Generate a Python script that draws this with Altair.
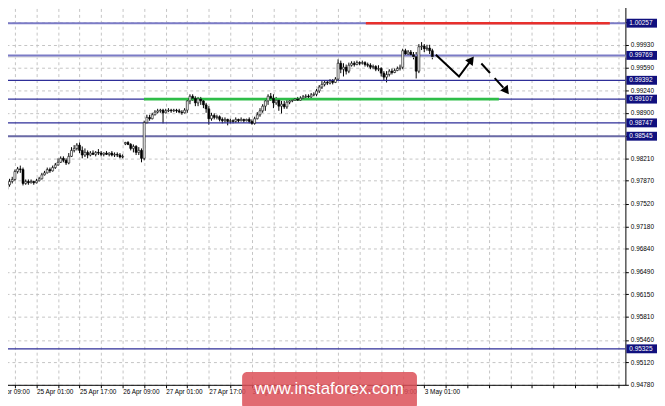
import altair as alt
import pandas as pd

# ---------------- data ----------------
first_bar = 5  # bar index of first visible candle (0 = 24 Apr 09:00, H1 bars)
opens = [
    0.9774, 0.9781, 0.9786, 0.9789, 0.9801, 0.9805, 0.9804, 0.9783, 0.9786, 0.9784,
    0.9786, 0.9784, 0.9787, 0.9790, 0.9796, 0.9799, 0.9804, 0.9802, 0.9807, 0.9811,
    0.9815, 0.9821, 0.9818, 0.9814, 0.9824, 0.9833, 0.9836, 0.9841, 0.9833, 0.9826,
    0.9830, 0.9826, 0.9829, 0.9827, 0.9830, 0.9829, 0.9827, 0.9829, 0.9827, 0.9829,
    0.9826, 0.9827, 0.9826, 0.9823, 0.9843, 0.9845, 0.9842, 0.9836, 0.9839, 0.9830,
    0.9833, 0.9821, 0.9875, 0.9883, 0.9881, 0.9887, 0.9891, 0.9893, 0.9894, 0.9890,
    0.9893, 0.9894, 0.9893, 0.9894, 0.9893, 0.9891, 0.9890, 0.9894, 0.9908, 0.9915,
    0.9912, 0.9905, 0.9911, 0.9908, 0.9902, 0.9896, 0.9881, 0.9886, 0.9883, 0.9884,
    0.9880, 0.9878, 0.9880, 0.9877, 0.9878, 0.9877, 0.9880, 0.9878, 0.9880, 0.9878,
    0.9880, 0.9877, 0.9874, 0.9881, 0.9887, 0.9893, 0.9900, 0.9908, 0.9915, 0.9912,
    0.9905, 0.9909, 0.9900, 0.9903, 0.9899, 0.9906, 0.9908, 0.9909, 0.9911, 0.9909,
    0.9912, 0.9914, 0.9915, 0.9914, 0.9917, 0.9918, 0.9923, 0.9929, 0.9933, 0.9936,
    0.9935, 0.9938, 0.9936, 0.9941, 0.9965, 0.9956, 0.9959, 0.9953, 0.9962, 0.9965,
    0.9963, 0.9966, 0.9965, 0.9966, 0.9963, 0.9962, 0.9959, 0.9960, 0.9956, 0.9957,
    0.9950, 0.9944, 0.9948, 0.9953, 0.9951, 0.9954, 0.9957, 0.9959, 0.9984, 0.9979,
    0.9982, 0.9978, 0.9975, 0.9953, 0.9990, 0.9991, 0.9987, 0.9988, 0.9984,
]
highs = [
    0.9789, 0.9790, 0.9793, 0.9804, 0.9808, 0.9810, 0.9807, 0.9789, 0.9789, 0.9789,
    0.9787, 0.9790, 0.9793, 0.9799, 0.9802, 0.9807, 0.9807, 0.9810, 0.9814, 0.9821,
    0.9824, 0.9824, 0.9821, 0.9829, 0.9838, 0.9841, 0.9844, 0.9845, 0.9839, 0.9836,
    0.9833, 0.9832, 0.9833, 0.9832, 0.9835, 0.9832, 0.9830, 0.9832, 0.9830, 0.9832,
    0.9830, 0.9830, 0.9829, 0.9827, 0.9846, 0.9847, 0.9844, 0.9842, 0.9841, 0.9838,
    0.9836, 0.9878, 0.9887, 0.9887, 0.9890, 0.9894, 0.9896, 0.9896, 0.9896, 0.9896,
    0.9897, 0.9896, 0.9896, 0.9896, 0.9896, 0.9894, 0.9897, 0.9911, 0.9918, 0.9918,
    0.9915, 0.9914, 0.9914, 0.9911, 0.9905, 0.9900, 0.9890, 0.9889, 0.9887, 0.9886,
    0.9883, 0.9883, 0.9881, 0.9881, 0.9880, 0.9883, 0.9881, 0.9883, 0.9881, 0.9881,
    0.9883, 0.9880, 0.9884, 0.9891, 0.9897, 0.9903, 0.9912, 0.9918, 0.9920, 0.9918,
    0.9914, 0.9912, 0.9908, 0.9908, 0.9911, 0.9911, 0.9912, 0.9912, 0.9914, 0.9915,
    0.9917, 0.9918, 0.9918, 0.9920, 0.9921, 0.9926, 0.9932, 0.9938, 0.9939, 0.9939,
    0.9941, 0.9941, 0.9944, 0.9971, 0.9969, 0.9965, 0.9963, 0.9966, 0.9968, 0.9968,
    0.9969, 0.9968, 0.9969, 0.9968, 0.9966, 0.9965, 0.9963, 0.9962, 0.9962, 0.9959,
    0.9953, 0.9953, 0.9956, 0.9957, 0.9957, 0.9960, 0.9963, 0.9987, 0.9987, 0.9985,
    0.9985, 0.9982, 0.9982, 0.9994, 0.9997, 0.9994, 0.9993, 0.9993, 0.9987,
]
lows = [
    0.9771, 0.9778, 0.9783, 0.9787, 0.9798, 0.9799, 0.9780, 0.9781, 0.9781, 0.9783,
    0.9781, 0.9783, 0.9786, 0.9789, 0.9795, 0.9798, 0.9799, 0.9801, 0.9805, 0.9810,
    0.9814, 0.9815, 0.9811, 0.9812, 0.9823, 0.9830, 0.9833, 0.9829, 0.9821, 0.9823,
    0.9821, 0.9824, 0.9826, 0.9824, 0.9826, 0.9824, 0.9824, 0.9826, 0.9824, 0.9824,
    0.9823, 0.9823, 0.9821, 0.9821, 0.9841, 0.9841, 0.9833, 0.9830, 0.9826, 0.9826,
    0.9815, 0.9818, 0.9874, 0.9878, 0.9880, 0.9886, 0.9889, 0.9890, 0.9874, 0.9889,
    0.9891, 0.9890, 0.9891, 0.9890, 0.9890, 0.9887, 0.9889, 0.9890, 0.9903, 0.9908,
    0.9900, 0.9900, 0.9902, 0.9897, 0.9890, 0.9872, 0.9878, 0.9880, 0.9880, 0.9877,
    0.9874, 0.9875, 0.9871, 0.9874, 0.9874, 0.9875, 0.9875, 0.9877, 0.9875, 0.9877,
    0.9874, 0.9872, 0.9872, 0.9880, 0.9884, 0.9890, 0.9893, 0.9902, 0.9908, 0.9897,
    0.9902, 0.9893, 0.9889, 0.9896, 0.9896, 0.9903, 0.9906, 0.9908, 0.9908, 0.9908,
    0.9911, 0.9912, 0.9912, 0.9912, 0.9915, 0.9915, 0.9920, 0.9926, 0.9930, 0.9932,
    0.9933, 0.9933, 0.9935, 0.9938, 0.9950, 0.9945, 0.9948, 0.9950, 0.9960, 0.9960,
    0.9962, 0.9962, 0.9963, 0.9960, 0.9959, 0.9956, 0.9956, 0.9953, 0.9953, 0.9945,
    0.9939, 0.9936, 0.9945, 0.9948, 0.9950, 0.9953, 0.9954, 0.9956, 0.9975, 0.9975,
    0.9974, 0.9971, 0.9942, 0.9950, 0.9985, 0.9982, 0.9984, 0.9979, 0.9971,
]
closes = [
    0.9781, 0.9786, 0.9789, 0.9801, 0.9805, 0.9804, 0.9783, 0.9786, 0.9784, 0.9786,
    0.9784, 0.9787, 0.9790, 0.9796, 0.9799, 0.9804, 0.9802, 0.9807, 0.9811, 0.9815,
    0.9821, 0.9818, 0.9814, 0.9824, 0.9833, 0.9836, 0.9841, 0.9833, 0.9826, 0.9830,
    0.9826, 0.9829, 0.9827, 0.9830, 0.9829, 0.9827, 0.9829, 0.9827, 0.9829, 0.9826,
    0.9827, 0.9826, 0.9823, 0.9824, 0.9845, 0.9842, 0.9836, 0.9839, 0.9830, 0.9833,
    0.9821, 0.9875, 0.9883, 0.9881, 0.9887, 0.9891, 0.9893, 0.9894, 0.9890, 0.9893,
    0.9894, 0.9893, 0.9894, 0.9893, 0.9891, 0.9890, 0.9894, 0.9908, 0.9915, 0.9912,
    0.9905, 0.9911, 0.9908, 0.9902, 0.9896, 0.9881, 0.9886, 0.9883, 0.9884, 0.9880,
    0.9878, 0.9880, 0.9877, 0.9878, 0.9877, 0.9880, 0.9878, 0.9880, 0.9878, 0.9880,
    0.9877, 0.9874, 0.9881, 0.9887, 0.9893, 0.9900, 0.9908, 0.9915, 0.9912, 0.9905,
    0.9909, 0.9900, 0.9903, 0.9899, 0.9906, 0.9908, 0.9909, 0.9911, 0.9909, 0.9912,
    0.9914, 0.9915, 0.9914, 0.9917, 0.9918, 0.9923, 0.9929, 0.9933, 0.9936, 0.9935,
    0.9938, 0.9936, 0.9941, 0.9965, 0.9956, 0.9959, 0.9953, 0.9962, 0.9965, 0.9963,
    0.9966, 0.9965, 0.9966, 0.9963, 0.9962, 0.9959, 0.9960, 0.9956, 0.9957, 0.9950,
    0.9944, 0.9948, 0.9953, 0.9951, 0.9954, 0.9957, 0.9959, 0.9984, 0.9979, 0.9982,
    0.9978, 0.9975, 0.9953, 0.9990, 0.9991, 0.9987, 0.9988, 0.9984, 0.9975,
]

# horizontal levels
levels_light = [1.00257, 0.99769]
levels_dark = [0.99392, 0.99107, 0.98747, 0.95325]
levels_mid = [0.98545]
level_tags = [1.00257, 0.99769, 0.99392, 0.99107, 0.98747, 0.98545, 0.95325]
ask_line = [0.99752]

# coloured target segments (bar index from / to)
red_seg = {"i0": 138.3, "i1": 228.9, "price": 1.00257}
green_seg = {"i0": 55.9, "i1": 187.7, "price": 0.99107}

# forecast arrows
solid_idx = [164.3, 172.9, 177.5]
solid_price = [0.9978, 0.9945, 0.99702]
dash_idx = [181.2, 190.5]
dash_price = [0.99646, 0.99231]

# axes
price_ticks = [0.94780, 0.95120, 0.95460, 0.95810, 0.96150, 0.96490, 0.96840, 0.97180,
               0.97520, 0.97870, 0.98210, 0.98550, 0.98900, 0.99240, 0.99590, 0.99930, 1.00270]
grid_idx = [0, 8, 16, 24, 32, 40, 48, 56, 64, 72, 80, 88, 96, 104, 112, 120, 128, 136,
            144, 152, 160, 168, 176, 184, 192, 200, 208, 216, 224, 232]
time_label_idx = [0, 16, 32, 48, 64, 80, 96, 112, 128, 144, 160]
time_labels = ["24 Apr 09:00", "25 Apr 01:00", "25 Apr 17:00", "26 Apr 09:00",
               "27 Apr 01:00", "27 Apr 17:00", "30 Apr 09:00", "1 May 01:00",
               "1 May 17:00", "2 May 09:00", "3 May 01:00"]
watermark = "www.instaforex.com"

# ---------------- chart ----------------
W, H = 633, 387
FONT = "Liberation Sans"
x_dom = [4.33, 232.85]
y_dom = [0.94780, 1.00570]

candles = pd.DataFrame({
    "i": list(range(first_bar, first_bar + len(closes))),
    "open": opens, "high": highs, "low": lows, "close": closes,
})

label_expr = " : ".join(
    f"datum.value == {v} ? '{t}'" for v, t in zip(time_label_idx, time_labels)
) + " : ''"

xs = alt.Scale(domain=x_dom, nice=False, zero=False)
ys = alt.Scale(domain=y_dom, nice=False, zero=False)

x_axis = alt.Axis(orient="bottom", values=grid_idx, tickCount=200, labelExpr=label_expr,
                  title=None, labelAlign="left", labelFont=FONT, labelFontSize=6.5,
                  labelColor="#000", labelPadding=1, labelOverlap=False, labelFlush=False,
                  labelBound=False,
                  tickSize=3, tickColor="#000", domainColor="#000", domainWidth=1,
                  grid=True, gridColor="#c4c4c4", gridDash=[3, 3], gridWidth=1)
y_axis = alt.Axis(orient="right", values=price_ticks, tickCount=200, format=".5f", title=None,
                  labelFont=FONT, labelFontSize=6.5, labelColor="#000", labelPadding=2,
                  labelOverlap=False, labelFlush=False, labelBound=False,
                  tickSize=3, tickColor="#000",
                  domainColor="#000", domainWidth=1,
                  grid=True, gridColor="#c4c4c4", gridDash=[3, 3], gridWidth=1)


def X(field):
    return alt.X(field, scale=xs, title=None)


def Y(field):
    return alt.Y(field, scale=ys, title=None)


# axis carrier layer (draws the grid and both axes)
axes = alt.Chart(candles).mark_point(opacity=0, size=0).encode(
    x=alt.X("i:Q", scale=xs, axis=x_axis),
    y=alt.Y("close:Q", scale=ys, axis=y_axis),
)

# first time label sits left of the visible domain: draw it as text
first_lab = alt.Chart(pd.DataFrame({"i": time_label_idx[:1], "t": time_labels[:1]})).mark_text(
    align="left", baseline="top", font=FONT, fontSize=6.5, color="#000").encode(
    x=X("i:Q"), y=alt.value(391), text="t:N")

base = alt.Chart(candles)
wicks = base.mark_rule(color="black", strokeWidth=1).encode(
    x=X("i:Q"), y=Y("low:Q"), y2="high:Q")
bodies = base.mark_bar(size=2, stroke="black", strokeWidth=0.6).encode(
    x=X("i:Q"), y=Y("open:Q"), y2="close:Q",
    fill=alt.condition("datum.close >= datum.open", alt.value("white"), alt.value("black")),
)


def hrule(values, color, width):
    return alt.Chart(pd.DataFrame({"price": values})).mark_rule(
        color=color, strokeWidth=width).encode(y=Y("price:Q"))


ask = hrule(ask_line, "#e2e2e2", 2.5)
light = hrule(levels_light, "#7b7bc6", 2)
mid = hrule(levels_mid, "#6a6aa6", 2)
dark = hrule(levels_dark, "#2e2e98", 1.2)


def seg(d, color):
    return alt.Chart(pd.DataFrame([d])).mark_rule(color=color, strokeWidth=2.6).encode(
        x=X("i0:Q"), x2="i1:Q", y=Y("price:Q"))


red = seg(red_seg, "#e8302c")
green = seg(green_seg, "#2ebd48")

solid_df = pd.DataFrame({"i": solid_idx, "price": solid_price, "o": [0, 1, 2]})
solid = alt.Chart(solid_df).mark_line(color="black", strokeWidth=2).encode(
    x=X("i:Q"), y=Y("price:Q"), order="o:Q")
solid_head = alt.Chart(solid_df.tail(1)).mark_point(
    shape="triangle-up", filled=True, color="black", size=90, angle=37, opacity=1).encode(
    x=X("i:Q"), y=Y("price:Q"))

dash_df = pd.DataFrame({"i": dash_idx, "price": dash_price, "o": [0, 1]})
dashed = alt.Chart(dash_df).mark_line(color="black", strokeWidth=2, strokeDash=[13, 7]).encode(
    x=X("i:Q"), y=Y("price:Q"), order="o:Q")
dash_head = alt.Chart(dash_df.tail(1)).mark_point(
    shape="triangle-up", filled=True, color="black", size=90, angle=143, opacity=1).encode(
    x=X("i:Q"), y=Y("price:Q"))

tag_df = pd.DataFrame({"price": level_tags})
tag_box = alt.Chart(tag_df).mark_tick(
    orient="horizontal", thickness=9, size=31, color="#10107e", opacity=1).encode(
    x=alt.value(649.5), y=Y("price:Q"))
tag_txt = alt.Chart(tag_df).mark_text(
    align="left", baseline="middle", font=FONT, fontSize=6.5, color="white").encode(
    x=alt.value(637), y=Y("price:Q"),
    text=alt.Text("price:Q", format=".5f"))

wm = alt.Chart(pd.DataFrame({"t": [watermark]}))
wm_box = wm.mark_rect(color="#dc5058", opacity=0.85, cornerRadius=5).encode(
    x=alt.value(245), x2=alt.value(422), y=alt.value(374), y2=alt.value(412))
wm_txt = wm.mark_text(font=FONT, fontSize=17, color="white", align="center",
                      baseline="alphabetic").encode(
    x=alt.value(333), y=alt.value(396), text="t:N")

chart = alt.layer(
    axes, first_lab, wicks, ask, light, mid, dark, red, green, bodies,
    solid, solid_head, dashed, dash_head, tag_box, tag_txt, wm_box, wm_txt,
).properties(
    width=W, height=H,
    autosize=alt.AutoSizeParams(type="none"),
    padding={"left": -8, "top": -8, "right": 32, "bottom": 19},
    background="white",
).configure_view(stroke=None)

chart.save("out.html", embed_options={"renderer": "svg", "actions": False})
